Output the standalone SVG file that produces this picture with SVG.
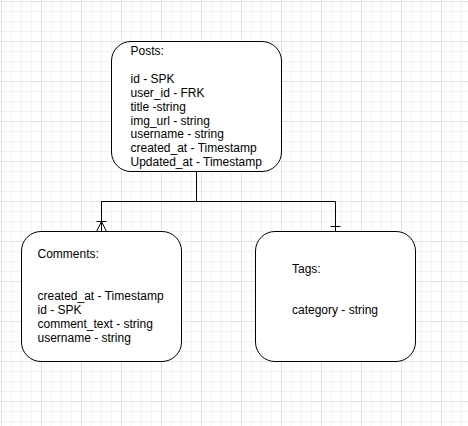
<svg xmlns="http://www.w3.org/2000/svg" width="468" height="426" viewBox="0 0 468 426">
  <defs>
    <pattern id="minor" x="1" y="1" width="10" height="10" patternUnits="userSpaceOnUse">
      <path d="M0.5 0V10M0 0.5H10" fill="none" stroke="#f3f3f3" stroke-width="1"/>
    </pattern>
    <pattern id="major" x="1" y="1" width="40" height="40" patternUnits="userSpaceOnUse">
      <path d="M0.5 0V40M0 0.5H40" fill="none" stroke="#e2e2e2" stroke-width="1"/>
    </pattern>
  </defs>
  <style>
    .box { fill: #ffffff; stroke: #000000; stroke-width: 1; }
    .edge { fill: none; stroke: #000000; stroke-width: 1; }
    text { font-family: "Liberation Sans", Arial, Helvetica, sans-serif; font-size: 12px; fill: #000000; }
  </style>
  <rect x="0" y="0" width="468" height="426" fill="#ffffff"/>
  <rect x="0" y="0" width="468" height="426" fill="url(#minor)"/>
  <rect x="0" y="0" width="468" height="426" fill="url(#major)"/>

  <g id="connectors">
    <path class="edge" d="M196.5 171.5V201.5M101.5 201.5H335.5M101.5 201.5V231.5M335.5 201.5V231.5"/>
    <path class="edge" d="M96.5 221.5H106.5M101.5 221.5L96.5 231.5M101.5 221.5L106.5 231.5"/>
    <path class="edge" d="M330.5 226.5H340.5"/>
  </g>

  <g id="posts">
    <rect class="box" x="111.5" y="41.5" width="170" height="130" rx="19.5" ry="19.5"/>
    <text x="130.5" y="55">Posts:</text>
    <text x="130.5" y="82.8">id - SPK</text>
    <text x="130.5" y="96.7">user_id - FRK</text>
    <text x="130.5" y="110.6">title -string</text>
    <text x="130.5" y="124.5">img_url - string</text>
    <text x="130.5" y="138.4">username - string</text>
    <text x="130.5" y="152.3">created_at - Timestamp</text>
    <text x="130.5" y="166.2">Updated_at - Timestamp</text>
  </g>

  <g id="comments">
    <rect class="box" x="21.5" y="231.5" width="160" height="130" rx="19.5" ry="19.5"/>
    <text x="37.5" y="258.4">Comments:</text>
    <text x="37.5" y="300.1">created_at - Timestamp</text>
    <text x="37.5" y="314">id - SPK</text>
    <text x="37.5" y="327.9">comment_text - string</text>
    <text x="37.5" y="341.8">username - string</text>
  </g>

  <g id="tags">
    <rect class="box" x="255.5" y="231.5" width="160" height="130" rx="19.5" ry="19.5"/>
    <text x="292" y="272.6">Tags:</text>
    <text x="292" y="314">category - string</text>
  </g>
</svg>
